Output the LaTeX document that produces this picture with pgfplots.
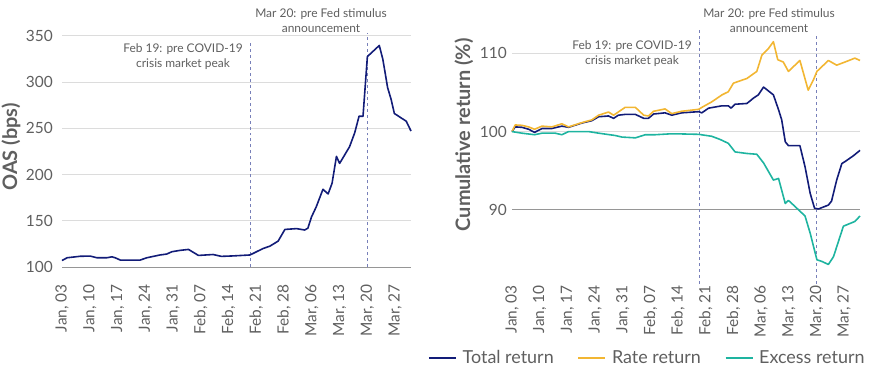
\documentclass[border=0pt]{standalone}
\usepackage{pgfplots}
\pgfplotsset{compat=1.18}
\usepackage{fontspec}
\setmainfont{Lato}
\definecolor{navy}{RGB}{18,28,120}
\definecolor{gold}{RGB}{242,182,50}
\definecolor{teal2}{RGB}{30,180,160}
\definecolor{dashc}{RGB}{120,128,185}
\definecolor{txt}{RGB}{95,95,95}
\definecolor{gridc}{RGB}{220,220,220}
\definecolor{basec}{RGB}{150,150,150}
\pgfplotsset{
  common/.style={
    scale only axis, anchor=south west, clip=false,
    xmin=0, xmax=88,
    axis line style={draw=none},
    major tick length=0pt,
    ymajorgrids, grid style={gridc, line width=0.9pt},
    xtick={0,7,...,84},
    xticklabels={{Jan, 03},{Jan, 10},{Jan, 17},{Jan, 24},{Jan, 31},{Feb, 07},{Feb, 14},{Feb, 21},{Feb, 28},{Mar, 06},{Mar, 13},{Mar, 20},{Mar, 27}},
    tick label style={font=\fontsize{15.5}{18}\selectfont, text=txt},
    xticklabel style={rotate=90, anchor=east, inner sep=0pt},
    yticklabel style={anchor=east, inner sep=0pt},
    /pgf/number format/assume math mode=true,
    ylabel style={font=\fontsize{20}{23}\selectfont\bfseries, text=txt, anchor=center},
    every axis plot/.append style={line width=1.6pt, line join=round},
  }
}
\begin{document}
\begin{tikzpicture}[x=1bp,y=1bp]
\useasboundingbox (0,0) rectangle (870,371);
% Left panel
\begin{axis}[common, at={(62bp,104bp)}, width=349bp, height=234bp,
  ymin=100, ymax=353, ytick={150,200,250,300,350},
  extra y ticks={100}, extra y tick style={grid style={basec, line width=1pt}},
  xticklabel shift=17bp, yticklabel shift=9bp,
  ylabel={OAS (bps)}, ylabel style={at={(axis description cs:-0.146,0.513)}}]
\addplot[dashc, dashed, line width=0.9pt, forget plot] coordinates {(47.4,100) (47.4,345)};
\addplot[dashc, dashed, line width=0.9pt, forget plot] coordinates {(77,100) (77,353)};
\addplot[navy] coordinates {(0,107) (1.3,110) (4.6,111.6) (7.1,111.8) (8.8,110) (11.3,110) (12.6,111) (13.4,110) (14.7,107.5) (19.7,107.5) (21.4,110) (24.7,113) (26.4,114) (27.7,116.5) (29.8,118) (31.9,119) (34.4,112.5) (38.1,113.5) (40.2,111.5) (43.2,112) (47.4,113) (50.7,120) (52.4,122.5) (54.5,128) (56.2,140.6) (59.1,141.5) (61.2,140) (62,142) (62.9,154) (64.1,165) (65.8,184) (67.1,179) (68.1,190.6) (69.2,219.6) (70,212) (72.5,230) (73.8,245) (74.9,263) (75.9,263) (77,327.5) (80,339.5) (80.9,324.6) (82.1,294) (83,281) (83.8,266) (86.8,257.6) (88,247)};
\end{axis}
\node[font=\fontsize{12}{15}\selectfont, text=txt, align=center] at (183,371-56.5) {Feb 19: pre COVID-19\\crisis market peak};
\node[font=\fontsize{12}{15}\selectfont, text=txt, align=center] at (321,371-20.5) {Mar 20: pre Fed stimulus\\announcement};
% Right panel
\begin{axis}[common, at={(512bp,87bp)}, width=348bp, height=254bp,
  ymin=80.5, ymax=113, ytick={100,110},
  extra y ticks={90}, extra y tick style={grid style={basec, line width=1pt}},
  xticklabel shift=1bp, yticklabel shift=5bp,
  ylabel={Cumulative return (\%)}, ylabel style={at={(axis description cs:-0.138,0.587)}},
  legend columns=3,
  legend style={at={(-0.241,-0.291)}, anchor=west, draw=none, fill=none, inner sep=0pt,
    font=\fontsize{18}{21}\selectfont, text=txt,
    /tikz/every odd column/.append style={column sep=4bp},
    /tikz/every even column/.append style={column sep=22bp}},
  legend image code/.code={\draw[#1, line width=1.3pt] (0bp,0bp) -- (27bp,0bp);}]
\addplot[dashc, dashed, line width=0.9pt, forget plot] coordinates {(47.3,80.5) (47.3,113)};
\addplot[dashc, dashed, line width=0.9pt, forget plot] coordinates {(77.05,80.5) (77.05,112.6)};
\addplot[navy] coordinates {(0,100) (0.8,100.6) (2.5,100.55) (4.2,100.3) (5.7,99.9) (7.6,100.4) (10.1,100.4) (12.6,100.7) (14.3,100.55) (17.7,101.1) (20.2,101.4) (21.9,101.9) (24.4,102.0) (25.7,101.7) (26.9,102.1) (28.6,102.2) (31.2,102.2) (33.3,101.7) (34.5,101.7) (35.8,102.25) (38.7,102.4) (40.4,102.1) (42.9,102.4) (47.2,102.55) (48,102.4) (49.7,103) (53.1,103.3) (54.7,103.3) (55.4,103) (56.4,103.5) (59.4,103.6) (61.1,104.3) (62.3,104.7) (63.6,105.7) (66.1,104.7) (67.4,102.8) (68.2,101.5) (69.1,98.7) (69.9,98.2) (72.8,98.2) (74.1,95.5) (75.4,92.1) (76.5,90.2) (77.5,90.1) (80,90.6) (80.8,91.1) (82.1,93.8) (83.4,95.9) (84.6,96.3) (86.3,96.9) (88,97.6)};
\addlegendentry{Total return}
\addplot[gold] coordinates {(0,100) (0.8,100.85) (2.5,100.8) (4.2,100.6) (5.7,100.3) (7.6,100.7) (10.1,100.6) (12.6,101) (14.3,100.6) (17.7,101.15) (20.2,101.5) (21.9,102.1) (24.4,102.5) (25.7,102.1) (28.6,103.1) (31.2,103.1) (33.3,102.1) (34.5,102) (35.8,102.6) (38.7,102.9) (40.4,102.3) (42.9,102.6) (47.2,102.85) (48,103.1) (50.5,103.8) (53.1,104.7) (54.7,105.1) (56,106.2) (59.4,106.8) (61.9,107.7) (63.2,109.8) (64.8,110.6) (66.1,111.5) (67.2,109.2) (68.6,108.9) (69.9,107.7) (72.8,109.1) (74.9,105.3) (76.2,106.6) (77.1,107.7) (80,109.1) (82.1,108.5) (84.2,108.9) (86.7,109.4) (88,109.1)};
\addlegendentry{Rate return}
\addplot[teal2] coordinates {(0,100) (2.5,99.8) (5.7,99.6) (7.6,99.8) (10.9,99.8) (12.6,99.6) (14.3,100) (19.4,100) (21.9,99.8) (26.1,99.5) (27.8,99.3) (31.2,99.2) (33.7,99.6) (36.2,99.6) (39.6,99.7) (42.9,99.7) (47.2,99.65) (50.5,99.4) (52.6,99) (54.7,98.5) (56.4,97.4) (59.4,97.2) (61.9,97.1) (63.6,96) (66.1,93.8) (67.4,94) (69.1,90.8) (69.9,91.2) (71.6,90.4) (74.1,89.2) (75.4,87) (77.1,83.6) (78.3,83.4) (80,83) (81.3,84) (83.8,87.9) (86.7,88.5) (88,89.2)};
\addlegendentry{Excess return}
\end{axis}
\node[font=\fontsize{12}{15}\selectfont, text=txt, align=center] at (632,371-54) {Feb 19: pre COVID-19\\crisis market peak};
\node[font=\fontsize{12}{15}\selectfont, text=txt, align=center] at (769,371-20.5) {Mar 20: pre Fed stimulus\\announcement};
\end{tikzpicture}
\end{document}
